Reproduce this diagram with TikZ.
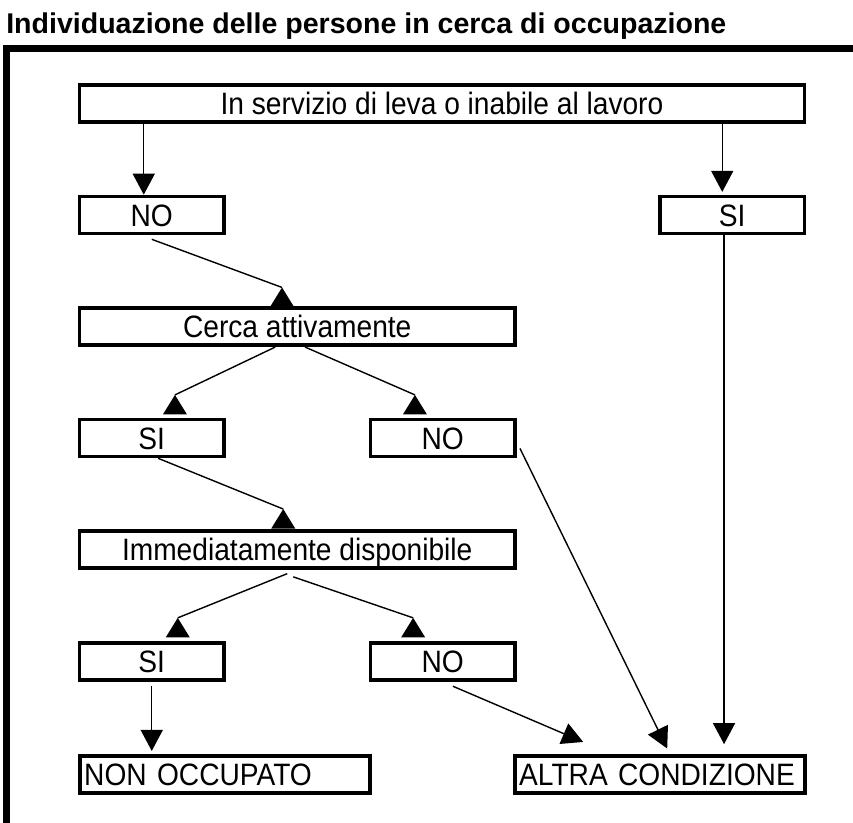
\documentclass[tikz,border=0pt]{standalone}
\usepackage{fontspec}
\setmainfont{Liberation Sans}
\newfontfamily\cellfamily{Liberation Sans}[FakeStretch=0.91]
\usepackage{tikz}
\usetikzlibrary{arrows.meta}
\newcommand{\boxfont}{\cellfamily\fontsize{22pt}{26pt}\selectfont}
\newcommand{\headfont}{\bfseries\fontsize{20.3pt}{24pt}\selectfont}

\begin{document}
\begin{tikzpicture}[x=0.25mm,y=-0.25mm,
  cell/.style={draw,line width=0.9mm,inner sep=0pt,minimum height=9.25mm,
    text height=5.5mm,text depth=0pt,font=\boxfont},
  small/.style={cell,minimum width=36.1mm},
  wide/.style={cell,minimum width=108.9mm},
  leftcell/.style={cell,text width=70.4mm,inner xsep=1.1mm,align=left},
  con/.style={line width=0.35mm},
  arr/.style={con,-{Triangle[length=5.25mm,width=5.5mm]}},
  uptri/.pic={\fill (0,0) -- (-12,19.5) -- (12,19.5) -- cycle;}]
  \useasboundingbox (0,0) rectangle (853,823);
  \clip (0,0) rectangle (853,823);
  \draw[line width=1.75mm] (6.3,900) -- (6.3,48.3) -- (900,48.3);
  \node[anchor=base west,inner sep=0pt,font=\headfont] (title) at (6,33)
    {Individuazione delle persone in cerca di occupazione};
  \node[cell,minimum width=181.25mm] (leva) at (442,103.5) {In servizio di leva o inabile al lavoro};
  \node[small] (no1) at (151.75,215) {NO};
  \node[small] (si1) at (732.25,215) {SI};
  \node[wide] (cerca) at (297.25,326.75) {Cerca attivamente};
  \node[small] (si2) at (151.75,438) {SI};
  \node[small] (no2) at (442.75,438) {NO};
  \node[wide] (disp) at (297.25,549.75) {Immediatamente disponibile};
  \node[small] (si3) at (151.75,661.75) {SI};
  \node[small] (no3) at (442.75,661.75) {NO};
  \node[leftcell] (nonocc) at (225,774.25) {NON OCCUPATO};
  \node[leftcell] (altra) at (660,774.25) {ALTRA CONDIZIONE};
  \draw[arr] ([xshift=-2mm]no1.north |- leva.south) -- ([xshift=-2mm]no1.north);
  \draw[arr] ([xshift=-2.5mm]si1.north |- leva.south) -- ([xshift=-2.5mm,yshift=0.7mm]si1.north);
  \draw[con] ([yshift=-1mm]no1.south) -- ([xshift=-3.8mm,yshift=4.75mm]cerca.north) pic {uptri};
  \draw[con] ([xshift=-5.5mm]cerca.south) -- ([xshift=5.8mm,yshift=5.7mm]si2.north) pic {uptri};
  \draw[con] ([xshift=1.95mm]cerca.south) -- ([xshift=-6.95mm,yshift=5.7mm]no2.north) pic {uptri};
  \draw[con] ([xshift=1.6mm]si2.south) -- ([xshift=-3.5mm,yshift=5.1mm]disp.north) pic {uptri};
  \draw[con] ([xshift=-2.5mm,yshift=-0.9mm]disp.south) -- ([xshift=6.5mm,yshift=5.9mm]si3.north) pic {uptri};
  \draw[con] ([xshift=-1mm,yshift=-1.7mm]disp.south) -- ([xshift=-7.4mm,yshift=5.9mm]no3.north) pic {uptri};
  \draw[arr] ([yshift=-1mm]si3.south) -- ([yshift=0.75mm]si3.south |- nonocc.north);
  \draw[arr] ([xshift=2.55mm,yshift=-1.05mm]no3.south) -- ([xshift=-19.2mm,yshift=3mm]altra.north);
  \draw[arr] ([xshift=0.8mm,yshift=-2.6mm]no2.east) -- ([xshift=1.8mm,yshift=1.35mm]altra.north);
  \draw[arr] ([xshift=-2.05mm]si1.south) -- ([xshift=-2.05mm,yshift=2.45mm]si1.south |- altra.north);
\end{tikzpicture}
\end{document}
